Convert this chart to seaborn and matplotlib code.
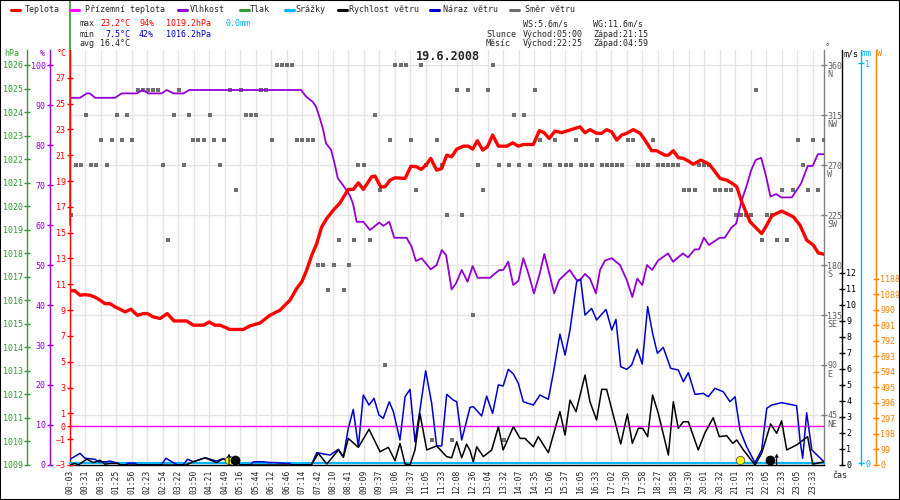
import matplotlib
matplotlib.use("Agg")
import matplotlib.pyplot as plt
from matplotlib.lines import Line2D
from matplotlib.patches import Rectangle
import seaborn as sns

# ~~~~~~~~ Data (x = position in label intervals, 0 = 00:03) ~~~~~~~~
time_labels = ["00:03", "00:31", "00:58", "01:25", "01:56", "02:23", "02:54", "03:22", "03:50",
               "04:21", "04:49", "05:16", "05:44", "06:12", "06:46", "07:14", "07:42", "08:10",
               "08:41", "09:09", "09:37", "10:06", "10:37", "11:05", "11:33", "12:08", "12:36",
               "13:04", "13:32", "14:07", "14:35", "15:06", "15:37", "16:05", "16:33", "17:02",
               "17:30", "17:58", "18:27", "18:58", "19:30", "20:01", "20:32", "21:01", "21:33",
               "22:05", "22:33", "23:05", "23:33"]

temp_t = [0, 0.32, 0.65, 0.97, 1.29, 1.62, 1.94, 2.26, 2.59, 2.91, 3.23, 3.56, 3.94, 4.35, 4.74, 5.0,
          5.39, 5.82, 6.29, 6.72, 7.54, 7.97, 8.62, 9.0, 9.37, 9.7, 10.34, 11.2, 11.64, 12.28, 12.93,
          13.57, 14.22, 14.65, 14.98, 15.3, 15.63, 15.95, 16.27, 16.6, 17.02, 17.45, 17.89, 18.0,
          18.31, 18.64, 18.96, 19.5, 19.72, 20.08, 20.36, 20.69, 21.01, 21.66, 22.04, 22.41, 22.69,
          23.01, 23.32, 23.7, 24.03, 24.35, 24.67, 25.0, 25.42, 25.75, 26.03, 26.33, 26.68, 26.98,
          27.32, 27.69, 28.23, 28.62, 28.98, 29.3, 29.95, 30.34, 30.64, 30.98, 31.35, 31.78, 32.32,
          32.97, 33.29, 33.61, 34.04, 34.37, 34.69, 35.02, 35.34, 35.66, 35.99, 36.41, 36.85, 37.17,
          37.6, 37.92, 38.46, 38.68, 39.0, 39.32, 39.65, 39.97, 40.29, 40.77, 41.16, 41.37, 42.02,
          42.45, 42.88, 43.1, 43.42, 43.96, 44.39, 44.71, 45.04, 45.36, 46.0, 46.33, 46.76, 47.19,
          47.62, 48.05, 48.37, 48.74]
temp = [10.5, 10.5, 10.15, 10.2, 10.15, 10.0, 9.77, 9.5, 9.5, 9.25, 9.07, 8.86, 9.07, 8.6, 8.73, 8.73,
        8.47, 8.35, 8.73, 8.16, 8.16, 7.83, 7.83, 8.08, 7.83, 7.83, 7.5, 7.5, 7.78, 8.0, 8.6,
        8.99, 9.77, 10.67, 11.19, 12.1, 13.26, 14.16, 15.45, 16.1, 16.74, 17.3, 18.16, 18.35,
        18.35, 18.86, 18.35, 19.33, 19.38, 18.55, 18.55, 19.07, 19.25, 19.2, 20.15, 20.1, 19.9,
        20.23, 20.75, 19.84, 19.97, 21.0, 20.88, 21.47, 21.7, 21.7, 21.47, 22.12, 21.4, 21.65,
        22.56, 21.7, 21.7, 21.96, 21.7, 21.83, 21.83, 22.9, 22.75, 22.3, 22.87, 22.75, 22.95,
        23.2, 22.74, 22.98, 22.7, 22.7, 22.98, 22.8, 22.17, 22.56, 22.7, 22.98, 22.7, 22.17,
        21.35, 21.35, 21.0, 21.0, 21.35, 20.81, 20.75, 20.55, 20.3, 20.62, 20.41, 20.23, 19.2,
        19.07, 18.76, 18.55, 17.39, 15.84, 15.32, 14.93, 15.58, 16.3, 16.67, 16.48, 16.22, 15.58,
        14.42, 14.03, 13.43, 13.33]

hum_t = [0, 0.65, 1.08, 1.29, 1.62, 2.91, 3.34, 4.31, 4.7, 5.07, 5.93, 6.25, 6.68, 7.33, 7.71, 14.94,
         15.26, 15.69, 15.9, 16.12, 16.34, 16.55, 16.88, 17.1, 17.31, 17.64, 18.07, 18.29, 18.53,
         18.96, 19.39, 19.99, 20.25, 20.64, 20.96, 21.76, 22.08, 22.36, 22.73, 23.32, 23.7, 24.03,
         24.31, 24.67, 24.95, 25.32, 25.7, 26.03, 26.35, 27.15, 27.75, 28.0, 28.33, 28.65, 28.98,
         29.3, 29.63, 29.99, 30.34, 30.66, 30.98, 31.3, 31.62, 32.3, 32.74, 32.97, 33.29, 33.61,
         34.0, 34.26, 34.58, 35.02, 35.55, 35.99, 36.35, 36.67, 36.99, 37.3, 37.63, 38.01, 38.66,
         38.98, 39.62, 39.95, 40.38, 40.66, 40.98, 41.3, 41.99, 42.32, 42.75, 43.07, 43.39, 43.72,
         44.04, 44.32, 44.68, 45.0, 45.28, 45.65, 45.97, 46.66, 47.26, 47.69, 48.01, 48.34, 48.74]
hum = [91.8, 91.8, 92.9, 92.9, 91.8, 91.8, 92.9, 92.9, 93.75, 92.9, 92.9, 93.75, 92.9, 92.9, 93.75, 93.75,
       92.1, 90.8, 89.6, 87.1, 84.2, 80.4, 78.75, 75.4, 71.7, 70.0, 67.5, 65.4, 60.8,
       60.8, 58.75, 60.6, 59.8, 60.8, 56.8, 56.8, 54.6, 51.0, 51.7, 48.9, 50.0, 53.75,
       52.5, 43.9, 45.4, 48.75, 45.8, 49.75, 46.8, 46.8, 48.75, 48.75, 50.8, 45.0, 46.0,
       51.7, 47.9, 42.9, 47.5, 52.75, 47.9, 42.9, 46.25, 48.75, 46.25, 46.25, 47.75, 46.6,
       42.9, 48.75, 51.1, 51.7, 50.0, 46.25, 42.0, 46.6, 45.0, 50.0, 48.75, 51.1, 52.9,
       50.8, 52.9, 51.9, 53.9, 53.9, 56.8, 55.0, 56.8, 56.8, 59.3, 60.4, 65.8, 69.6,
       73.75, 76.25, 76.8, 72.1, 67.1, 67.75, 66.9, 66.9, 70.4, 74.75, 74.75, 77.7, 77.7]

gust_t = [0, 0.65, 0.97, 1.62, 1.83, 2.37, 2.59, 3.1, 3.25, 3.6, 3.75, 4.2, 4.35, 5.9, 6.2, 6.95, 7.3,
          7.6, 7.97, 8.73, 9.48, 9.91, 10.2, 10.67, 11.0, 11.64, 11.85, 12.5, 12.9, 13.2, 13.9, 14.2,
          14.3, 15.6, 15.95, 16.81, 17.35, 17.67, 17.99, 18.31, 18.64, 18.96, 19.33, 19.65, 19.97,
          20.25, 20.64, 20.9, 21.33, 21.66, 21.98, 22.3, 22.62, 22.99, 23.38, 23.7, 24.03, 24.35,
          24.78, 25.0, 25.32, 25.86, 26.07, 26.61, 26.93, 27.32, 27.69, 28.0, 28.33, 28.66, 28.98,
          29.3, 29.95, 30.38, 30.92, 31.24, 31.67, 32.0, 32.32, 32.75, 33.01, 33.29, 33.72, 34.04,
          34.65, 35.02, 35.29, 35.6, 35.99, 36.31, 36.67, 36.99, 37.34, 37.66, 37.97, 38.35, 38.83,
          39.32, 39.65, 39.97, 40.4, 40.94, 41.26, 41.69, 42.23, 42.66, 42.99, 43.31, 43.74, 44.28,
          44.71, 45.04, 45.36, 46.0, 46.97, 47.19, 47.36, 47.62, 47.95, 48.74]
gust = [0.36, 0.73, 0.42, 0.36, 0.2, 0.2, 0.25, 0.1, 0.0, 0.0, 0.12, 0.12, 0.0, 0.0, 0.42, 0.0, 0.0,
        0.36, 0.2, 0.45, 0.25, 0.4, 0.3, 0.4, 0.0, 0.0, 0.2, 0.2, 0.15, 0.15, 0.1, 0.1,
        0.0, 0.0, 0.77, 0.62, 0.98, 0.52, 2.29, 3.47, 1.14, 4.37, 3.74, 4.16, 3.12,
        2.91, 3.95, 3.33, 1.56, 4.26, 4.72, 1.45, 3.43, 5.88, 3.85, 1.19, 1.19, 4.41,
        4.05, 3.95, 1.56, 3.6, 3.64, 3.06, 4.3, 3.22, 5.0, 4.93, 5.97, 5.68, 5.1,
        3.95, 3.74, 4.37, 4.1, 5.72, 8.17, 6.86, 8.42, 11.43, 11.6, 9.36, 9.77, 9.05,
        9.71, 8.42, 9.09, 6.13, 5.97, 6.24, 7.22, 6.3, 9.88, 8.22, 6.97, 7.34, 6.03,
        5.93, 5.2, 5.76, 4.41, 4.47, 4.26, 4.78, 4.57, 3.95, 4.26, 2.18, 1.14, 0.14,
        0.94, 3.54, 3.74, 3.89, 3.7, 1.56, 0.42, 3.26, 0.94, 0.2]

wind_t = [0, 0.3, 0.54, 1.08, 1.51, 1.94, 2.26, 2.6, 3.1, 3.25, 7.5, 7.97, 8.73, 9.48, 9.91, 10.2,
          10.67, 11.0, 15.6, 16.05, 16.6, 17.35, 17.67, 17.99, 18.64, 19.33, 20.04, 20.58, 21.01,
          21.33, 21.66, 21.98, 22.3, 22.62, 23.06, 23.7, 24.35, 24.67, 25.0, 25.32, 25.64, 25.86,
          26.07, 26.29, 26.72, 27.26, 27.69, 28.0, 28.66, 29.09, 29.41, 29.95, 30.27, 30.92, 31.67,
          32.0, 32.32, 32.71, 33.29, 33.61, 34.04, 34.37, 34.69, 35.6, 36.03, 36.35, 36.74, 37.02,
          37.34, 37.66, 38.03, 38.68, 39.0, 39.32, 39.65, 39.97, 40.61, 41.05, 41.58, 41.97, 42.45,
          42.84, 43.1, 43.53, 44.28, 44.71, 45.29, 45.68, 46.0, 46.33, 46.97, 47.68, 48.01, 48.27,
          48.74]
wind = [0.0, 0.1, 0.0, 0.36, 0.15, 0.3, 0.05, 0.1, 0.1, 0.0, 0.0, 0.2, 0.45, 0.15, 0.4, 0.2,
        0.4, 0.0, 0.0, 0.73, 0.06, 0.94, 0.48, 1.66, 1.1, 2.23, 0.83, 1.1, 0.27,
        1.35, 0.06, 0.0, 0.94, 3.22, 0.94, 1.19, 0.52, 0.45, 1.45, 0.45, 1.3, 0.9,
        0.2, 1.14, 0.52, 0.94, 2.39, 0.94, 2.39, 1.66, 1.66, 1.14, 1.77, 0.77, 3.33,
        1.87, 4.05, 3.33, 5.61, 3.95, 2.81, 4.72, 4.72, 1.31, 3.18, 1.35, 2.29, 2.29,
        1.77, 4.37, 3.22, 0.62, 3.95, 2.29, 2.7, 2.7, 0.94, 2.02, 2.95, 1.77, 1.83,
        1.35, 1.56, 0.94, 0.0, 0.73, 2.56, 1.98, 2.76, 0.94, 1.25, 1.77, 0.06, 0.1,
        0.2]

dir_t = ([13.36, 13.68, 14.01, 14.33, 21.01, 21.38, 21.72, 22.69, 27.34]
         + [4.38, 4.7, 5.02, 5.35, 5.67, 7.07, 10.34, 11.05, 12.35, 12.67, 25.0, 25.71, 27.02, 30.06, 44.34]
         + [1.03, 3.02, 3.66, 6.72, 7.69, 9.05, 11.36, 11.68, 12.0, 19.72, 28.7, 29.35]
         + [1.98, 2.69, 3.34, 3.99, 7.97, 8.29, 8.68, 9.33, 9.97, 13.04, 14.65, 15.02, 15.36, 15.69,
            20.69, 22.04, 23.72, 30.38, 31.35, 32.71, 34.07, 36.05, 36.37, 37.69, 47.06, 48.03, 48.74]
         + [0.37, 0.69, 1.36, 1.68, 2.37, 5.99, 7.37, 9.7, 18.64, 19.0, 23.01, 24.03, 26.37, 27.73,
            28.38, 29.02, 29.74, 30.7, 31.03, 31.67, 32.06, 32.39, 33.05, 33.38, 33.72, 34.37, 34.69,
            35.02, 35.34, 35.66, 36.7, 37.02, 37.34, 37.99, 38.31, 38.64, 38.96, 39.28, 40.68, 41.0,
            41.33, 47.38]
         + [10.71, 20.04, 22.37, 26.7, 39.67, 39.99, 40.38, 41.67, 42.0, 42.39, 42.71, 46.02, 46.72,
            47.71, 48.35]
         + [0.06, 24.37, 25.34, 43.05, 43.37, 43.7, 44.02, 45.03, 45.36]
         + [6.31, 17.37, 18.34, 19.39, 44.71, 45.68, 46.35]
         + [16.01, 16.35, 17.05, 18.01]
         + [16.68, 17.69]
         + [26.04]
         + [20.36]
         + [23.38, 24.69, 28.03])
dir_deg = ([360] * 9 + [337.5] * 15 + [315] * 12 + [292.5] * 27 + [270] * 42 + [247.5] * 15
           + [225] * 9 + [202.5] * 7 + [180] * 4 + [157.5] * 2 + [135] + [90] + [22.5] * 3)

ground_t = [0.0, 48.74]
ground = [0.0, 0.0]
rain_t = [0.0, 48.74]
rain = [0.0, 0.0]
press_t = [0.0, 0.0]
press = [1019.2, 1031.0]

sun_t = [10.28, 43.31]
moon_t = [10.67, 45.25]
rise_t = [10.28, 45.68]

dir_ticks = [45, 90, 135, 180, 225, 270, 315, 360]
dir_names = ["NE", "E", "SE", "S", "SW", "W", "NW", "N"]
temp_ticks = [-3, -1, 0, 1, 3, 5, 7, 9, 11, 13, 15, 17, 19, 21, 23, 25, 27]
power_ticks = [0, 99, 198, 297, 396, 495, 594, 693, 792, 891, 990, 1089, 1188]

# ~~~~~~~~ Plot ~~~~~~~~
sns.set_theme(style="white")
plt.rcParams["font.family"] = ["DejaVu Sans Mono"]
plt.rcParams["font.size"] = 6

RED, MAG, PURP, GREEN = "#ff0000", "#ff00ff", "#9400d3", "#339933"
CYAN, BLUE, GRAY, ORANGE = "#00b4ff", "#0000cc", "#6e6e6e", "#ff8000"

W, H = 900, 500
X0, X1, Y0, Y1 = 70, 824, 50, 465
fig = plt.figure(figsize=(9, 5), dpi=100)
ax_dir = fig.add_axes([X0 / W, 1 - Y1 / H, (X1 - X0) / W, (Y1 - Y0) / H])
ax_hum = ax_dir.twinx()
ax_p = ax_dir.twinx()
ax_t = ax_dir.twinx()
ax_mm = ax_dir.twinx()
ax_ws = ax_dir.twinx()
ax_sol = ax_dir.twinx()


def side_axis(ax, side, px, color, lim, ticks, pad=1.0):
    for s in ax.spines.values():
        s.set_visible(False)
    sp = ax.spines[side]
    sp.set_visible(True)
    sp.set_position(("axes", (px - X0) / (X1 - X0)))
    sp.set_color(color)
    sp.set_linewidth(1.0)
    if side == "left":
        ax.yaxis.tick_left()
    else:
        ax.yaxis.tick_right()
    ax.set_ylim(*lim)
    ax.set_yticks(ticks)
    ax.tick_params(axis="y", colors=color, direction="inout", length=4, width=1,
                   pad=pad, labelsize=6)
    ax.set_ylabel("")


# grid + wind direction
sns.scatterplot(x=dir_t, y=dir_deg, ax=ax_dir, marker="s", s=10, color=GRAY, linewidth=0, zorder=3)
side_axis(ax_dir, "right", 824, "#808080", (0, 373.5), dir_ticks, pad=0.5)
ax_dir.tick_params(axis="y", labelcolor="#606060")
ax_dir.spines["bottom"].set_visible(True)
ax_dir.spines["bottom"].set_color("black")
ax_dir.spines["bottom"].set_linewidth(1.0)
ax_dir.set_xlim(0, 48.74)
ax_dir.set_xticks(range(len(time_labels)))
ax_dir.set_xticklabels(time_labels, rotation=90, fontsize=5.8)
ax_dir.tick_params(axis="x", length=0, pad=3)
ax_dir.grid(True, color="#e8e3e3", linewidth=1)
ax_dir.set_axisbelow(True)
for deg, name in zip(dir_ticks, dir_names):
    ax_dir.annotate(name, xy=(1.0, deg), xycoords=("axes fraction", "data"), xytext=(2.5, -6.5),
                    textcoords="offset points", ha="left", va="center", fontsize=6,
                    color="#606060", annotation_clip=False)

# humidity
sns.lineplot(x=hum_t, y=hum, ax=ax_hum, color=PURP, linewidth=1.3, sort=False, estimator=None)
side_axis(ax_hum, "left", 50, PURP, (0, 103.75), range(0, 101, 10))

# pressure
ax_p.plot(press_t, press, color=GREEN, linewidth=1.2, clip_on=False)
side_axis(ax_p, "left", 27, GREEN, (1009, 1026.6375), range(1009, 1027))

# temperature + ground temperature
sns.lineplot(x=ground_t, y=ground, ax=ax_t, color=MAG, linewidth=1.0, sort=False, estimator=None)
sns.lineplot(x=temp_t, y=temp, ax=ax_t, color=RED, linewidth=2.4, sort=False, estimator=None)
side_axis(ax_t, "left", 70, RED, (-3, 29.15), temp_ticks)

# rain
ax_mm.plot(rain_t, rain, color=CYAN, linewidth=1.6, clip_on=False)
side_axis(ax_mm, "right", 861, CYAN, (-0.004, 1.0335), [0, 1])
ax_mm.set_yticklabels(["0", "1"])

# wind speed / gust
sns.lineplot(x=gust_t, y=gust, ax=ax_ws, color=BLUE, linewidth=1.1, sort=False, estimator=None)
sns.lineplot(x=wind_t, y=wind, ax=ax_ws, color="black", linewidth=1.1, sort=False, estimator=None)
ax_ws.plot(sun_t, [0.3] * len(sun_t), linestyle="none", marker="o", markersize=6,
           markerfacecolor="#ffff00", markeredgecolor="#555555", markeredgewidth=0.6)
ax_ws.plot(moon_t, [0.3] * len(moon_t), linestyle="none", marker="o", markersize=6,
           markerfacecolor="black", markeredgecolor="black")
for t in rise_t:
    ax_ws.annotate("", xy=(t, 0.72), xytext=(t, 0.0),
                   arrowprops=dict(arrowstyle="->", lw=0.8, color="black", shrinkA=0, shrinkB=0,
                                   mutation_scale=5))
side_axis(ax_ws, "right", 842, "black", (0, 25.9), range(0, 13))

# solar radiation axis (no data)
side_axis(ax_sol, "right", 876, ORANGE, (0, 2646), power_ticks)

for ax in (ax_hum, ax_p, ax_t, ax_mm, ax_ws, ax_sol):
    ax.set_xlim(0, 48.74)


# ~~~~~~~~ Header texts ~~~~~~~~
def ft(x, y, s, **kw):
    kw.setdefault("fontsize", 6)
    kw.setdefault("va", "center")
    fig.text(x / W, 1 - y / H, s, **kw)


legend_items = [("Teplota", RED, 11, 25), ("Přízemní teplota", MAG, 70, 85),
                ("Vlhkost", PURP, 178, 190), ("Tlak", GREEN, 240, 250),
                ("Srážky", CYAN, 285, 295), ("Rychlost větru", "black", 338, 349),
                ("Náraz větru", BLUE, 430, 443), ("Směr větru", GRAY, 510, 525)]
for name, col, lx, tx in legend_items:
    fig.add_artist(Line2D([lx / W, (lx + 9) / W], [1 - 9.5 / H, 1 - 9.5 / H], color=col, linewidth=2.2))
    ft(tx, 9, name)

ft(80, 24, "max")
ft(100, 24, "23.2°C", color=RED)
ft(139, 24, "94%", color=RED)
ft(166, 24, "1019.2hPa", color=RED)
ft(226, 24, "0.0mm", color=CYAN)
ft(80, 34, "min")
ft(105, 34, "7.5°C", color=BLUE)
ft(139, 34, "42%", color=BLUE)
ft(166, 34, "1016.2hPa", color=BLUE)
ft(80, 44, "avg")
ft(100, 44, "16.4°C")

ft(523, 24, "WS:5.6m/s")
ft(593, 24, "WG:11.6m/s")
ft(486, 34, "Slunce")
ft(523, 34, "Východ:05:00")
ft(593, 34, "Západ:21:15")
ft(486, 44, "Měsíc")
ft(523, 44, "Východ:22:25")
ft(593, 44, "Západ:04:59")

ft(448, 57, "19.6.2008", ha="center", fontsize=8.5, fontweight="bold")

ft(4, 54, "hPa", color=GREEN)
ft(40, 54, "%", color=PURP)
ft(57, 54, "°C", color=RED)
ft(825, 48, "°", color="#606060")
ft(844, 54, "m/s", color="black")
ft(862, 54, "mm", color=CYAN)
ft(877, 54, "W", color=ORANGE)
ft(832, 476, "čas")

fig.patches.append(Rectangle((0, 0), 1, 1, transform=fig.transFigure, fill=False,
                             edgecolor="black", linewidth=1.5))

fig.savefig("out.png", dpi=100)
